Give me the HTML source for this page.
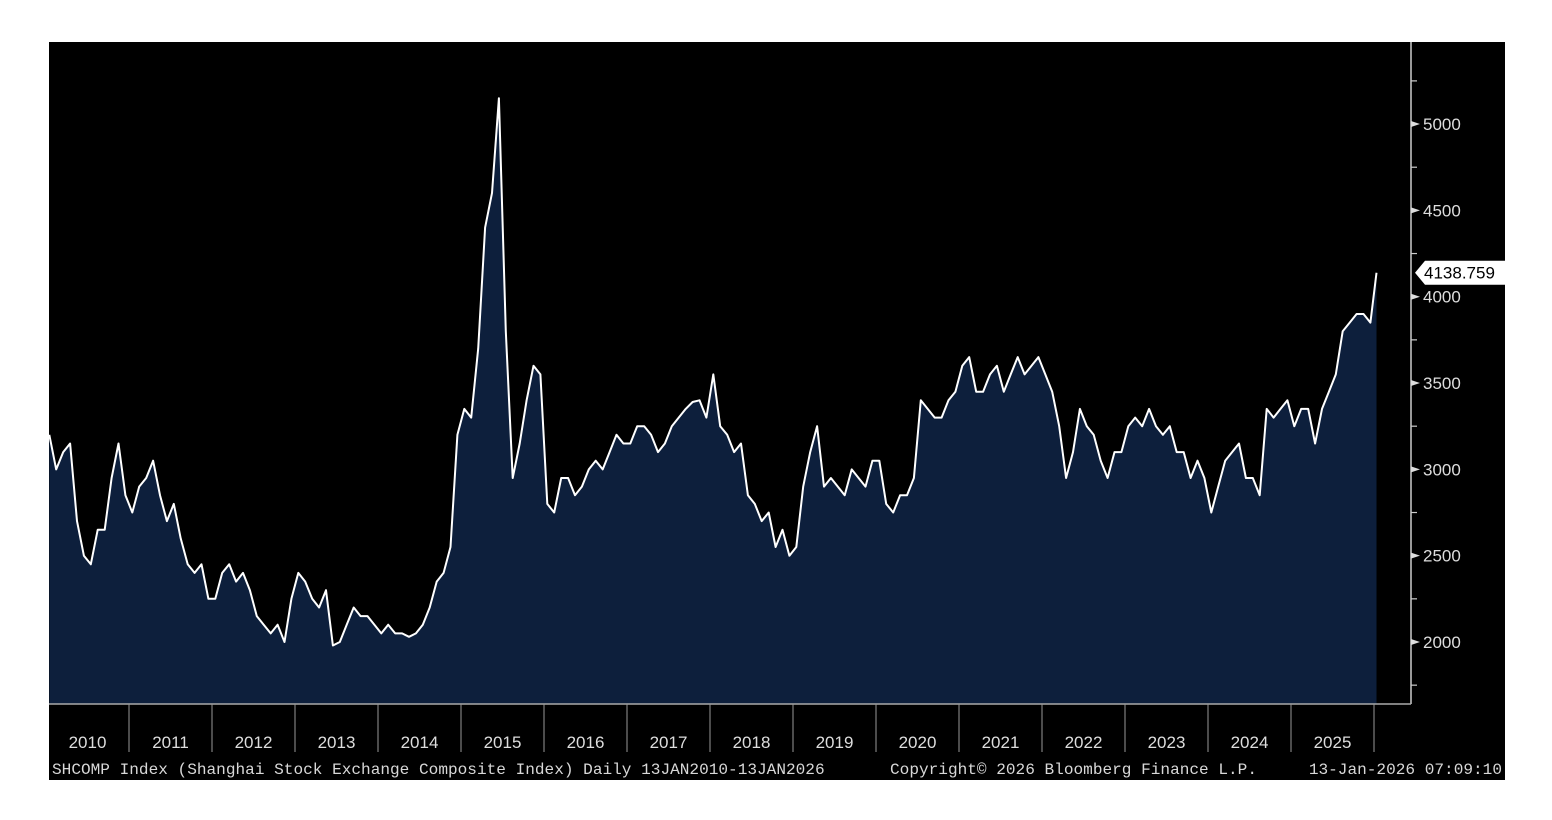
<!DOCTYPE html>
<html><head><meta charset="utf-8"><style>
html,body{margin:0;padding:0;background:#fff;width:1552px;height:820px;overflow:hidden}
svg{display:block}
text{font-family:"Liberation Sans",sans-serif}
</style></head><body>
<svg id="chart" width="1552" height="820">
<rect x="49" y="42" width="1456" height="738" fill="#000"/>
<g id="plot"></g>
<g id="axes"></g>
<text x="52" y="774" fill="#d8d8d8" font-size="16.1" style="font-family:'Liberation Mono',monospace">SHCOMP Index (Shanghai Stock Exchange Composite Index) Daily 13JAN2010-13JAN2026</text>
<text x="890" y="774" fill="#d8d8d8" font-size="16.1" style="font-family:'Liberation Mono',monospace">Copyright© 2026 Bloomberg Finance L.P.</text>
<text x="1502" y="774" fill="#d8d8d8" font-size="16.1" text-anchor="end" style="font-family:'Liberation Mono',monospace">13-Jan-2026 07:09:10</text>
</svg>
<script>
const years = [2010,2011,2012,2013,2014,2015,2016,2017,2018,2019,2020,2021,2022,2023,2024,2025];
const yTicks = [2000,2500,3000,3500,4000,4500,5000];
const yMinorTicks = [1750,2250,2750,3250,3750,4250,4750,5250];
const startYear = 2010.04;
const monthlyValues = [
3200,3000,3100,3150,2700,2500,2450,2650,2650,2950,3150,2850,
2750,2900,2950,3050,2850,2700,2800,2600,2450,2400,2450,2250,
2250,2400,2450,2350,2400,2300,2150,2100,2050,2100,2000,2250,
2400,2350,2250,2200,2300,1980,2000,2100,2200,2150,2150,2100,
2050,2100,2050,2050,2030,2050,2100,2200,2350,2400,2550,3200,
3350,3300,3700,4400,4600,5150,3800,2950,3150,3400,3600,3550,
2800,2750,2950,2950,2850,2900,3000,3050,3000,3100,3200,3150,
3150,3250,3250,3200,3100,3150,3250,3300,3350,3390,3400,3300,
3550,3250,3200,3100,3150,2850,2800,2700,2750,2550,2650,2500,
2550,2900,3100,3250,2900,2950,2900,2850,3000,2950,2900,3050,
3050,2800,2750,2850,2850,2950,3400,3350,3300,3300,3400,3450,
3600,3650,3450,3450,3550,3600,3450,3550,3650,3550,3600,3650,
3550,3450,3250,2950,3100,3350,3250,3200,3050,2950,3100,3100,
3250,3300,3250,3350,3250,3200,3250,3100,3100,2950,3050,2950,
2750,2900,3050,3100,3150,2950,2950,2850,3350,3300,3350,3400,
3250,3350,3350,3150,3350,3450,3550,3800,3850,3900,3900,3850,
4139
];
const lastValue = "4138.759";
const NS="http://www.w3.org/2000/svg";
const X0=46, PX_PER_YEAR=83, YREF=642, YREFV=2000, PX_PER_UNIT=0.17265, BASE=704;
function xScale(yr){return X0+(yr-2010)*PX_PER_YEAR;}
function yScale(v){return YREF-(v-YREFV)*PX_PER_UNIT;}
function mk(tag,attrs,parent){const e=document.createElementNS(NS,tag);for(const k in attrs)e.setAttribute(k,attrs[k]);parent.appendChild(e);return e;}
const plot=document.getElementById('plot'), axes=document.getElementById('axes');
const pts=monthlyValues.map((v,i)=>{const t=Math.min(startYear+i/12,2026.03);return [xScale(t),yScale(v)];});
const lineD=pts.map((p,i)=>(i?'L':'M')+p[0].toFixed(1)+','+p[1].toFixed(1)).join(' ');
const areaD=lineD+` L${pts[pts.length-1][0].toFixed(1)},${BASE} L${pts[0][0].toFixed(1)},${BASE} Z`;
const area=mk('path',{d:areaD,fill:'#0d1f3c'},plot);


const line=mk('path',{d:lineD,fill:'none',stroke:'#fff','stroke-width':2,'stroke-linejoin':'round'},plot);


const yl=mk('line',{x1:1411,y1:42,x2:1411,y2:704,stroke:'#ccc','stroke-width':1.5},axes);


const xl=mk('line',{x1:49,y1:704,x2:1411,y2:704,stroke:'#aaa','stroke-width':1.5},axes);


yMinorTicks.forEach(v=>{const t=mk('line',{x1:1411,x2:1417,y1:yScale(v),y2:yScale(v),stroke:'#ccc','stroke-width':1.2},axes);

});
yTicks.forEach(v=>{const y=yScale(v);
const tri=mk('path',{d:`M1411,${y-3}L1420,${y}L1411,${y+3}Z`,fill:'#ddd'},axes);


const tx=mk('text',{x:1423,y:y+6,fill:'#ddd','font-size':17},axes);tx.textContent=v;

});
years.forEach(yr=>{const x=xScale(yr+1);
const s=mk('line',{x1:x,x2:x,y1:704,y2:752,stroke:'#999','stroke-width':1},axes);


const tx=mk('text',{x:xScale(yr+0.5),y:748,fill:'#ddd','font-size':17,'text-anchor':'middle'},axes);tx.textContent=yr;

});
const ly=yScale(monthlyValues[monthlyValues.length-1]);
const lb=mk('path',{d:`M1415,${ly}L1425,${ly-12}L1505,${ly-12}L1505,${ly+12}L1425,${ly+12}Z`,fill:'#fff'},axes);


const lt=mk('text',{x:1424,y:ly+6,fill:'#000','font-size':17},axes);lt.textContent=lastValue;


</script>
</body></html>
